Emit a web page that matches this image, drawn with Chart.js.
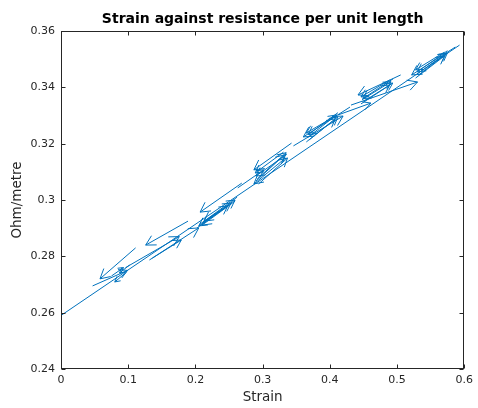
<!DOCTYPE html>
<html>
<head>
<meta charset="utf-8">
<script src="https://cdn.jsdelivr.net/npm/chart.js@4.4.0/dist/chart.umd.min.js"></script>
<style>
  html, body { margin: 0; padding: 0; background: #fff; }
</style>
</head>
<body>
<canvas id="strainChart" width="478" height="408"></canvas>
<script>
// tick values
const xTicks = [0, 0.1, 0.2, 0.3, 0.4, 0.5, 0.6];
const yTicks = [0.24, 0.26, 0.28, 0.30, 0.32, 0.34, 0.36];

// fitted line
const fitX = [0, 0.593];
const fitY = [0.259, 0.355];

// quiver arrows: tail (x0,y0) -> head (x1,y1)
const arrowX0 = [0.111, 0.189, 0.047, 0.096, 0.1315, 0.075, 0.0975, 0.102, 0.136,
  0.207, 0.213, 0.2025, 0.269, 0.259, 0.250, 0.262,
  0.290, 0.294, 0.331, 0.343, 0.334, 0.263, 0.292, 0.336,
  0.365, 0.369, 0.408, 0.430, 0.3458, 0.367, 0.412,
  0.4463, 0.4507, 0.4891, 0.5054, 0.4123, 0.4315, 0.448, 0.494,
  0.5276, 0.532, 0.5704, 0.5867, 0.530, 0.575];
const arrowY0 = [0.283, 0.2925, 0.2695, 0.276, 0.2787, 0.273, 0.2744, 0.2769, 0.2794,
  0.2915, 0.2922, 0.2901, 0.306, 0.2996, 0.2982, 0.3010,
  0.3067, 0.3057, 0.317, 0.3202, 0.3149, 0.3043, 0.3075, 0.3162,
  0.3206, 0.3213, 0.3298, 0.333, 0.3192, 0.3222, 0.3310,
  0.3341, 0.3351, 0.3426, 0.3444, 0.3302, 0.3337, 0.3356, 0.3430,
  0.3433, 0.3444, 0.3525, 0.3543, 0.3448, 0.3530];
const arrowX1 = [0.058, 0.126, 0.099, 0.176, 0.179, 0.093, 0.080, 0.087, 0.205,
  0.253, 0.259, 0.248, 0.207, 0.210, 0.205, 0.213,
  0.3325, 0.337, 0.289, 0.287, 0.287, 0.3015, 0.335, 0.290,
  0.408, 0.412, 0.365, 0.3606, 0.4197, 0.410, 0.368,
  0.4891, 0.4936, 0.4463, 0.4419, 0.4611, 0.5305, 0.491, 0.449,
  0.5704, 0.5749, 0.5276, 0.5217, 0.573, 0.530];
const arrowY1 = [0.272, 0.284, 0.275, 0.287, 0.2858, 0.276, 0.2709, 0.2741, 0.2901,
  0.2989, 0.300, 0.2979, 0.2957, 0.2911, 0.2908, 0.2925,
  0.316, 0.3149, 0.3096, 0.3107, 0.3057, 0.3107, 0.3168, 0.3085,
  0.3288, 0.3295, 0.3238, 0.3224, 0.3298, 0.3302, 0.3232,
  0.3408, 0.3415, 0.3366, 0.3373, 0.3344, 0.3419, 0.3420, 0.3360,
  0.3511, 0.3522, 0.3462, 0.3444, 0.3520, 0.3455];

const blue = '#0072BD';
const axisColor = '#262626';
const fontFamily = 'DejaVu Sans';

const datasets = [{
  data: fitX.map((x, i) => ({ x: x, y: fitY[i] })),
  showLine: true, borderColor: blue, borderWidth: 1, pointRadius: 0
}];
arrowX0.forEach((x0, i) => {
  datasets.push({
    data: [{ x: x0, y: arrowY0[i] }, { x: arrowX1[i], y: arrowY1[i] }],
    showLine: true, borderColor: blue, borderWidth: 1, pointRadius: 0
  });
});

function fmt(v) { return String(Number(v.toFixed(2))); }

// arrowheads, title, box and inward ticks
const matlabStyle = {
  id: 'matlabStyle',
  afterDatasetsDraw(chart) {
    const { ctx, scales: { x, y } } = chart;
    ctx.save();
    ctx.strokeStyle = blue;
    ctx.lineWidth = 1;
    arrowX0.forEach((x0v, i) => {
      const px0 = x.getPixelForValue(x0v), py0 = y.getPixelForValue(arrowY0[i]);
      const px1 = x.getPixelForValue(arrowX1[i]), py1 = y.getPixelForValue(arrowY1[i]);
      const ang = Math.atan2(py1 - py0, px1 - px0);
      const len = Math.hypot(px1 - px0, py1 - py0);
      const h = Math.max(6, Math.min(11, len * 0.25));
      ctx.beginPath();
      ctx.moveTo(px1 - h * Math.cos(ang - 0.5), py1 - h * Math.sin(ang - 0.5));
      ctx.lineTo(px1, py1);
      ctx.lineTo(px1 - h * Math.cos(ang + 0.5), py1 - h * Math.sin(ang + 0.5));
      ctx.stroke();
    });
    ctx.restore();
  },
  afterDraw(chart) {
    const { ctx, chartArea: a, scales: { x, y } } = chart;
    ctx.save();
    ctx.strokeStyle = axisColor;
    ctx.lineWidth = 1;
    const l = Math.round(a.left) + 0.5, r = Math.round(a.right) - 0.5;
    const t = Math.round(a.top) + 0.5, b = Math.round(a.bottom) - 0.5;
    ctx.strokeRect(l, t, r - l, b - t);
    ctx.beginPath();
    xTicks.forEach(v => {
      const p = Math.round(x.getPixelForValue(v)) + 0.5;
      ctx.moveTo(p, b); ctx.lineTo(p, b - 4);
      ctx.moveTo(p, t); ctx.lineTo(p, t + 4);
    });
    yTicks.forEach(v => {
      const p = Math.round(y.getPixelForValue(v)) + 0.5;
      ctx.moveTo(l, p); ctx.lineTo(l + 4, p);
      ctx.moveTo(r, p); ctx.lineTo(r - 4, p);
    });
    ctx.stroke();
    ctx.fillStyle = '#000';
    ctx.font = 'bold 14px ' + fontFamily;
    ctx.textAlign = 'center';
    ctx.textBaseline = 'middle';
    ctx.fillText('Strain against resistance per unit length', (a.left + a.right) / 2, 19);
    ctx.restore();
  }
};

new Chart(document.getElementById('strainChart'), {
  type: 'scatter',
  data: { datasets: datasets },
  options: {
    responsive: false,
    animation: false,
    layout: { padding: { top: 31, right: 11, left: 0, bottom: 0 } },
    plugins: { legend: { display: false }, tooltip: { enabled: false } },
    scales: {
      x: {
        type: 'linear', min: 0, max: 0.6,
        afterFit: s => { s.height = 39; },
        afterBuildTicks: s => { s.ticks = xTicks.map(v => ({ value: v })); },
        grid: { display: false, drawTicks: false },
        border: { display: false },
        ticks: { padding: 5, color: axisColor, font: { family: fontFamily, size: 11 }, callback: fmt, maxRotation: 0 },
        title: { display: true, text: 'Strain', color: axisColor, padding: 2, font: { family: fontFamily, size: 13.5 } }
      },
      y: {
        type: 'linear', min: 0.24, max: 0.36,
        afterFit: s => { s.width = 61; },
        afterBuildTicks: s => { s.ticks = yTicks.map(v => ({ value: v })); },
        grid: { display: false, drawTicks: false },
        border: { display: false },
        ticks: { padding: 6, color: axisColor, font: { family: fontFamily, size: 11 }, callback: fmt },
        title: { display: true, text: 'Ohm/metre', color: axisColor, padding: 9, font: { family: fontFamily, size: 13.5 } }
      }
    }
  },
  plugins: [matlabStyle]
});
</script>
</body>
</html>
